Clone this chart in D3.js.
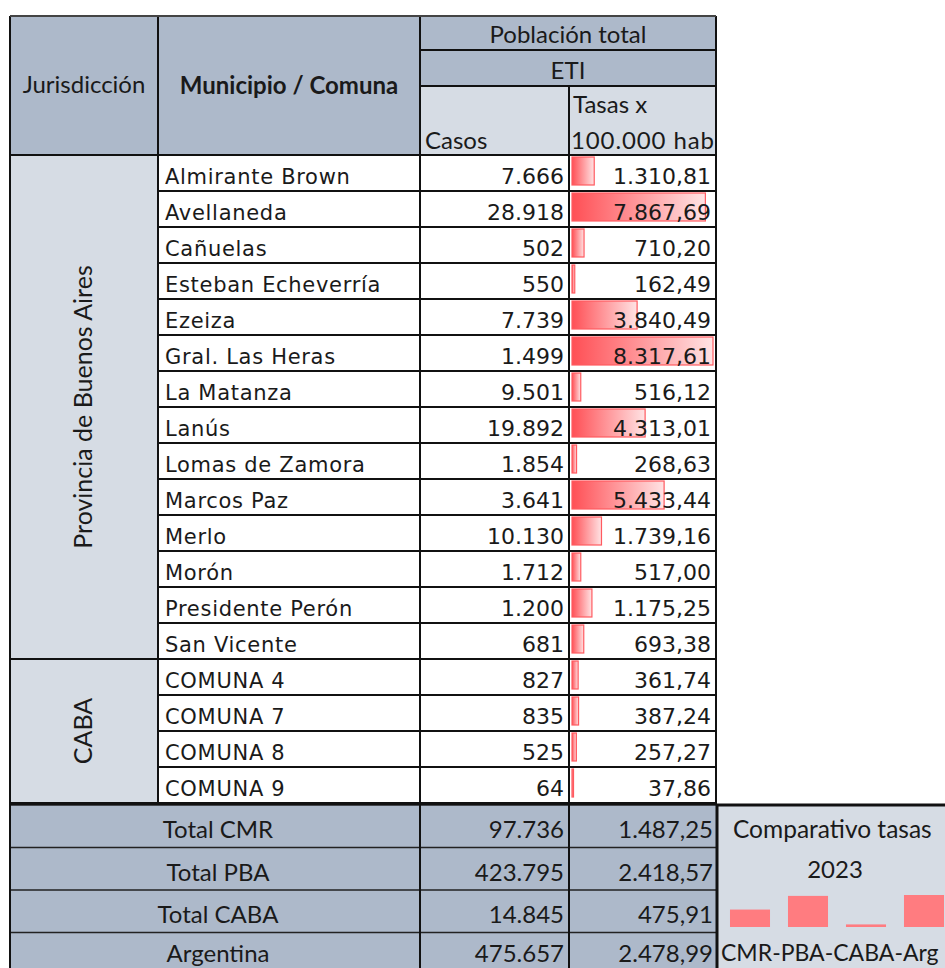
<!DOCTYPE html>
<html>
<head>
<meta charset="utf-8">
<script src="https://cdn.jsdelivr.net/npm/d3@7"></script>
<style>
  body { margin: 0; background: #fff; }
  .cal { font-family: Lato, "Open Sans", sans-serif; fill: #1a1a1a; }
  .ver { font-family: "DejaVu Sans", Verdana, sans-serif; fill: #1a1a1a; }
</style>
</head>
<body>
<div id="chart"></div>
<script>
// datos
const municipios = ["Almirante Brown", "Avellaneda", "Cañuelas", "Esteban Echeverría", "Ezeiza",
  "Gral. Las Heras", "La Matanza", "Lanús", "Lomas de Zamora", "Marcos Paz", "Merlo", "Morón",
  "Presidente Perón", "San Vicente", "COMUNA 4", "COMUNA 7", "COMUNA 8", "COMUNA 9"];
const jurisdiccion = ["Provincia de Buenos Aires", "Provincia de Buenos Aires", "Provincia de Buenos Aires",
  "Provincia de Buenos Aires", "Provincia de Buenos Aires", "Provincia de Buenos Aires",
  "Provincia de Buenos Aires", "Provincia de Buenos Aires", "Provincia de Buenos Aires",
  "Provincia de Buenos Aires", "Provincia de Buenos Aires", "Provincia de Buenos Aires",
  "Provincia de Buenos Aires", "Provincia de Buenos Aires", "CABA", "CABA", "CABA", "CABA"];
const casos = [7666, 28918, 502, 550, 7739, 1499, 9501, 19892, 1854, 3641, 10130, 1712, 1200, 681, 827, 835, 525, 64];
const tasas = [1310.81, 7867.69, 710.20, 162.49, 3840.49, 8317.61, 516.12, 4313.01, 268.63, 5433.44,
  1739.16, 517.00, 1175.25, 693.38, 361.74, 387.24, 257.27, 37.86];

const totales = ["Total CMR", "Total PBA", "Total CABA", "Argentina"];
const totalCasos = [97736, 423795, 14845, 475657];
const totalTasas = [1487.25, 2418.57, 475.91, 2478.99];
const comparativo = ["CMR", "PBA", "CABA", "Arg"];

const W = 945, H = 968;
const dark = "#adb9ca", light = "#d6dce4";
const cols = [10, 158, 420, 569, 716];
const fs = 24; // tamaño texto tipo Calibri

const es = d3.formatLocale({decimal: ",", thousands: ".", grouping: [3], currency: ["$", ""]});
const fCasos = es.format(",d"), fTasa = es.format(",.2f");

const svg = d3.select("#chart").append("svg")
  .attr("width", W).attr("height", H)
  .attr("viewBox", "0 0 " + W + " " + H);

const y = d3.scaleBand().domain(d3.range(municipios.length)).range([155, 803]);
const yt = d3.scaleBand().domain(totales).range([805, 975]);
const xBar = d3.scaleLinear().domain([0, d3.max(tasas)]).range([0, 141]);

// gradiente de las barras de datos
const grad = svg.append("defs").append("linearGradient").attr("id", "gbar");
grad.append("stop").attr("offset", "0%").attr("stop-color", "#ff4f55");
grad.append("stop").attr("offset", "100%").attr("stop-color", "#ffe3e4");

/* ------- ENCABEZADO -------*/
const head = svg.append("g");
head.append("rect").attr("x", cols[0]).attr("y", 16).attr("width", cols[4] - cols[0]).attr("height", 139).attr("fill", dark);
head.append("rect").attr("x", cols[2]).attr("y", 86).attr("width", cols[4] - cols[2]).attr("height", 69).attr("fill", light);

head.append("text").attr("class", "cal").attr("x", (cols[0] + cols[1]) / 2).attr("y", 93)
  .attr("text-anchor", "middle").attr("font-size", fs).text("Jurisdicción");
head.append("text").attr("class", "cal").attr("x", (cols[1] + cols[2]) / 2).attr("y", 94)
  .attr("text-anchor", "middle").attr("font-size", fs).attr("font-weight", "bold").text("Municipio / Comuna");
head.append("text").attr("class", "cal").attr("x", (cols[2] + cols[4]) / 2).attr("y", 43)
  .attr("text-anchor", "middle").attr("font-size", fs).text("Población total");
head.append("text").attr("class", "cal").attr("x", (cols[2] + cols[4]) / 2).attr("y", 79)
  .attr("text-anchor", "middle").attr("font-size", fs).text("ETI");
head.append("text").attr("class", "cal").attr("x", cols[2] + 5).attr("y", 149)
  .attr("font-size", fs).text("Casos");
head.append("text").attr("class", "cal").attr("x", cols[3] + 4).attr("y", 113)
  .attr("font-size", fs).text("Tasas x");
head.append("text").attr("class", "cal").attr("x", cols[3] + 2).attr("y", 149)
  .attr("font-size", fs).attr("textLength", 143).text("100.000 hab");

/* ------- FILAS -------*/
const grupos = d3.groups(d3.range(municipios.length), i => jurisdiccion[i]);
const gj = svg.append("g");
grupos.forEach(function(g) {
  const y0 = y(g[1][0]), y1 = y(g[1][g[1].length - 1]) + y.bandwidth();
  gj.append("rect").attr("x", cols[0]).attr("y", y0).attr("width", cols[1] - cols[0])
    .attr("height", y1 - y0).attr("fill", light).attr("stroke", "#111").attr("stroke-width", 2);
  gj.append("text").attr("class", "cal").attr("font-size", 25).attr("text-anchor", "middle")
    .attr("transform", "translate(" + ((cols[0] + cols[1]) / 2 + 8) + "," + ((y0 + y1) / 2) + ") rotate(-90)")
    .text(g[0]);
});

const rows = svg.append("g").selectAll("g").data(d3.range(municipios.length)).join("g")
  .attr("transform", i => "translate(0," + y(i) + ")");

rows.append("rect").attr("x", cols[1]).attr("width", cols[4] - cols[1]).attr("height", y.bandwidth())
  .attr("fill", "#fff");

rows.append("rect")
  .attr("x", cols[3] + 3).attr("y", 2)
  .attr("width", i => Math.max(1.5, xBar(tasas[i])))
  .attr("height", y.bandwidth() - 8)
  .attr("fill", "url(#gbar)").attr("stroke", "#ff5a60").attr("stroke-width", 1.2);

rows.append("text").attr("class", "ver").attr("x", cols[1] + 7).attr("y", 29)
  .attr("font-size", 21).attr("letter-spacing", 0.7).text(i => municipios[i]);
rows.append("text").attr("class", "ver").attr("x", cols[3] - 5).attr("y", 29)
  .attr("font-size", 22).attr("text-anchor", "end").text(i => fCasos(casos[i]));
rows.append("text").attr("class", "ver").attr("x", cols[4] - 5).attr("y", 29)
  .attr("font-size", 22).attr("text-anchor", "end").text(i => fTasa(tasas[i]));

/* ------- LINEAS -------*/
const lines = svg.append("g").attr("stroke", "#111").attr("stroke-width", 2);
d3.range(municipios.length + 1).forEach(function(i) {
  const yy = i < municipios.length ? y(i) : 803;
  lines.append("line").attr("x1", cols[1]).attr("x2", cols[4]).attr("y1", yy).attr("y2", yy);
});
lines.append("line").attr("x1", cols[2]).attr("x2", cols[4]).attr("y1", 50).attr("y2", 50);
lines.append("line").attr("x1", cols[2]).attr("x2", cols[4]).attr("y1", 86).attr("y2", 86);
lines.append("line").attr("x1", cols[3]).attr("x2", cols[3]).attr("y1", 86).attr("y2", 968);
lines.append("line").attr("x1", cols[2]).attr("x2", cols[2]).attr("y1", 16).attr("y2", 968);
lines.append("line").attr("x1", cols[1]).attr("x2", cols[1]).attr("y1", 16).attr("y2", 803);
lines.append("line").attr("x1", cols[4]).attr("x2", cols[4]).attr("y1", 16).attr("y2", 968);
lines.append("line").attr("x1", cols[0]).attr("x2", cols[0]).attr("y1", 16).attr("y2", 968);
lines.append("line").attr("x1", cols[0]).attr("x2", cols[4]).attr("y1", 16).attr("y2", 16).attr("stroke", "#444");

/* ------- TOTALES -------*/
const tot = svg.append("g").selectAll("g").data(totales).join("g")
  .attr("transform", d => "translate(0," + yt(d) + ")");
tot.append("rect").attr("x", cols[0]).attr("width", cols[4] - cols[0]).attr("height", yt.bandwidth())
  .attr("fill", dark);
tot.append("line").attr("x1", cols[0]).attr("x2", cols[4]).attr("stroke", "#222").attr("stroke-width", 1.5);
// la última fila queda cortada por el borde: texto un poco más arriba
const ty = (d, i) => i === totales.length - 1 ? 29 : 33;
tot.append("text").attr("class", "cal").attr("x", (cols[0] + cols[2]) / 2 + 3).attr("y", ty)
  .attr("text-anchor", "middle").attr("font-size", fs).text(d => d);
tot.append("text").attr("class", "cal").attr("x", cols[3] - 5).attr("y", ty)
  .attr("text-anchor", "end").attr("font-size", fs).text((d, i) => fCasos(totalCasos[i]));
tot.append("text").attr("class", "cal").attr("x", cols[4] - 3).attr("y", ty)
  .attr("text-anchor", "end").attr("font-size", fs).text((d, i) => fTasa(totalTasas[i]));

const tl = svg.append("g").attr("stroke", "#111").attr("stroke-width", 2);
[cols[0], cols[2], cols[3]].forEach(function(xx) {
  tl.append("line").attr("x1", xx).attr("x2", xx).attr("y1", 805).attr("y2", 968);
});
tl.append("line").attr("x1", cols[0]).attr("x2", cols[4]).attr("y1", 804).attr("y2", 804);

/* ------- COMPARATIVO -------*/
const comp = svg.append("g");
comp.append("rect").attr("x", cols[4]).attr("y", 805).attr("width", W - cols[4]).attr("height", H - 805)
  .attr("fill", light);
comp.append("line").attr("x1", cols[4]).attr("x2", W).attr("y1", 805).attr("y2", 805)
  .attr("stroke", "#111").attr("stroke-width", 3);
comp.append("line").attr("x1", cols[4] + 1).attr("x2", cols[4] + 1).attr("y1", 805).attr("y2", H)
  .attr("stroke", "#111").attr("stroke-width", 3);
comp.append("text").attr("class", "cal").attr("x", 733).attr("y", 838).attr("font-size", 24.5)
  .text("Comparativo tasas");
comp.append("text").attr("class", "cal").attr("x", 835).attr("y", 878).attr("text-anchor", "middle")
  .attr("font-size", fs).text("2023");

const xc = d3.scaleBand().domain(comparativo).range([721, 953]).paddingInner(0.31).paddingOuter(0.155);
const yc = d3.scaleLinear().domain([300, d3.max(totalTasas)]).range([927, 895]);
comp.selectAll("rect.bar").data(comparativo).join("rect").attr("class", "bar")
  .attr("x", d => xc(d)).attr("width", xc.bandwidth())
  .attr("y", (d, i) => yc(totalTasas[i])).attr("height", (d, i) => 927 - yc(totalTasas[i]))
  .attr("fill", "#ff7c80");
comp.append("text").attr("class", "cal").attr("x", 721).attr("y", 961).attr("font-size", 23)
  .text(comparativo.join("-"));
</script>
</body>
</html>
